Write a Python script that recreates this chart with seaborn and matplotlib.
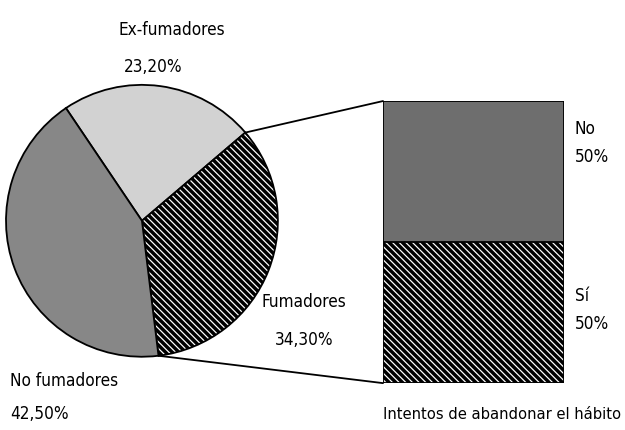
import pandas as pd
import numpy as np
import seaborn as sns
import matplotlib.pyplot as plt
from matplotlib.patches import ConnectionPatch

# datos del gráfico
categorias = ['Ex-fumadores', 'Fumadores', 'No fumadores']
porcentajes = [23.2, 34.3, 42.5]
etiquetas_pct = ['23,20%', '34,30%', '42,50%']

intentos = ['No', 'Sí']
intentos_pct = [50, 50]
intentos_etq = ['50%', '50%']
titulo_barra = 'Intentos de abandonar el hábito'

sns.set_theme(style='white')
plt.rcParams['font.family'] = ['DejaVu Sans']
plt.rcParams['font.stretch'] = 'condensed'
plt.rcParams['text.color'] = 'black'
plt.rcParams['hatch.linewidth'] = 2.5
plt.rcParams['hatch.color'] = 'black'

fig = plt.figure(figsize=(6.25, 4.3), dpi=100)

# pastel
ax_pie = fig.add_axes([0.0096, 0.17, 0.435, 0.633])
colores = ['#d2d2d2', 'white', '#878787']
wedges, _ = ax_pie.pie(porcentajes, colors=colores, startangle=124, counterclock=False,
                       wedgeprops=dict(edgecolor='black', linewidth=1.3))
wedges[1].set_hatch('\\\\\\\\\\')
ax_pie.set_xlim(-1, 1)
ax_pie.set_ylim(-1, 1)
ax_pie.axis('off')

fs = 12.3
kw = dict(fontsize=fs, va='center', stretch='condensed')
ax_pie.text(-0.17, 1.40, categorias[0], ha='left', **kw)
ax_pie.text(-0.13, 1.13, etiquetas_pct[0], ha='left', **kw)
ax_pie.text(1.19, -0.60, categorias[1], ha='center', **kw)
ax_pie.text(1.19, -0.88, etiquetas_pct[1], ha='center', **kw)
ax_pie.text(-0.97, -1.18, categorias[2], ha='left', **kw)
ax_pie.text(-0.97, -1.42, etiquetas_pct[2], ha='left', **kw)

# barra apilada
df = pd.DataFrame({'intento': intentos, 'pct': intentos_pct})
df['acum'] = df['pct'][::-1].cumsum()[::-1]
ax_bar = fig.add_axes([0.6128, 0.109, 0.2896, 0.656])
sns.barplot(x=[0], y=[df['acum'].iloc[0]], color='#6e6e6e', width=1, ax=ax_bar,
            edgecolor='black', linewidth=1.3, saturation=1)
sns.barplot(x=[0], y=[df['acum'].iloc[1]], color='white', width=1, ax=ax_bar,
            edgecolor='black', linewidth=1.3, saturation=1)
ax_bar.patches[1].set_hatch('\\\\\\\\\\')
ax_bar.set_xlim(-0.5, 0.5)
ax_bar.set_ylim(0, 100)
ax_bar.axis('off')

pos_y = [df['pct'].iloc[1] + df['pct'].iloc[0] * 0.8, df['pct'].iloc[1] * 0.62]
for nombre, etq, y in zip(intentos, intentos_etq, pos_y):
    ax_bar.text(0.56, y, nombre, ha='left', **kw)
    ax_bar.text(0.56, y - 10, etq, ha='left', **kw)
ax_bar.text(0.815, -11, titulo_barra, ha='right', clip_on=False,
            fontsize=11.8, va='center', stretch='condensed')

# líneas de conexión
ang1 = np.deg2rad(wedges[1].theta2)
ang2 = np.deg2rad(wedges[1].theta1)
for ang, yb in [(ang1, 100), (ang2, 0)]:
    con = ConnectionPatch(xyA=(np.cos(ang), np.sin(ang)), coordsA=ax_pie.transData,
                          xyB=(-0.5, yb), coordsB=ax_bar.transData,
                          color='black', linewidth=1.3)
    fig.add_artist(con)

plt.savefig('out.png', dpi=100)
